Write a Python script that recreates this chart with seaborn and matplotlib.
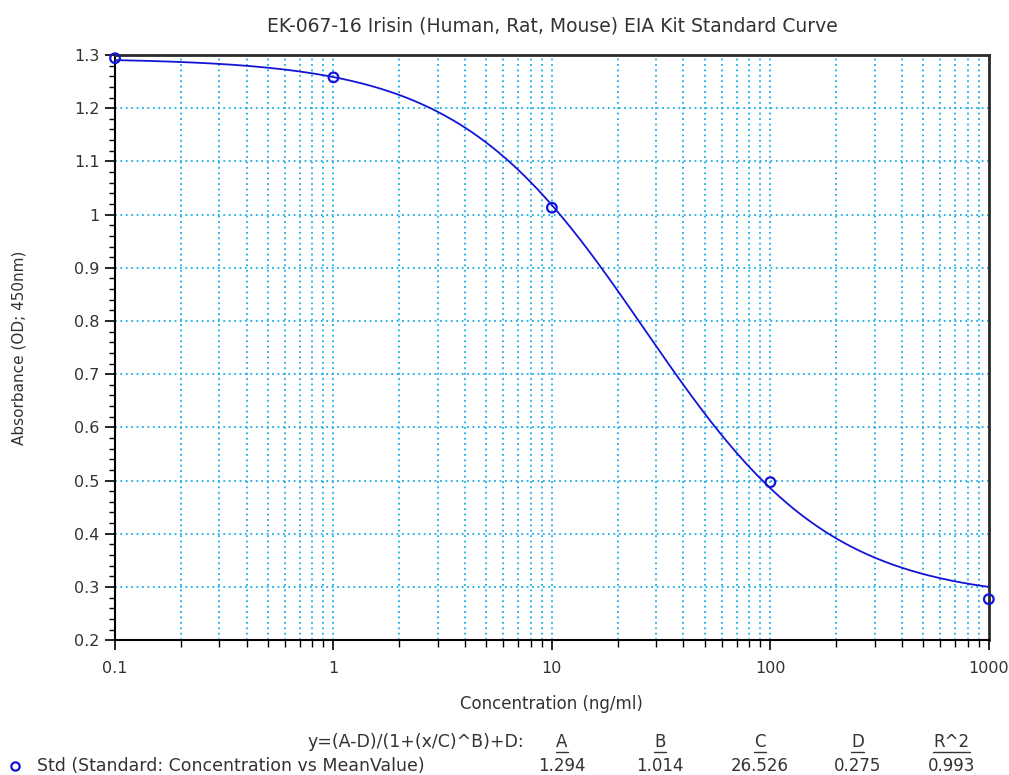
import numpy as np
import pandas as pd
import seaborn as sns
import matplotlib.pyplot as plt
from matplotlib.lines import Line2D
from matplotlib.ticker import FixedLocator, LogLocator, MultipleLocator, NullFormatter

### standard points
conc = [0.1, 1, 10, 100, 1000]
absorbance = [1.294, 1.258, 1.013, 0.497, 0.277]

### 4PL fit parameters printed under the chart
param_names = ["A", "B", "C", "D", "R^2"]
param_values = ["1.294", "1.014", "26.526", "0.275", "0.993"]
A, B, C, D = 1.294, 1.014, 26.526, 0.275

x_ticks = [0.1, 1, 10, 100, 1000]
x_ticklabels = ["0.1", "1", "10", "100", "1000"]
y_ticks = [0.2, 0.3, 0.4, 0.5, 0.6, 0.7, 0.8, 0.9, 1.0, 1.1, 1.2, 1.3]
y_ticklabels = ["0.2", "0.3", "0.4", "0.5", "0.6", "0.7", "0.8", "0.9", "1", "1.1", "1.2", "1.3"]

TEXT = "#333333"
BLUE = "#1414d8"
GRID = "#18aee8"

sns.set_theme(style="white")
plt.rcParams["font.family"] = ["DejaVu Sans"]

# fitted curve y=(A-D)/(1+(x/C)^B)+D using the printed parameters
x_fit = np.logspace(np.log10(conc[0]), np.log10(conc[-1]), 400)
fit_df = pd.DataFrame({"x": x_fit, "y": (A - D) / (1 + (x_fit / C) ** B) + D})
std_df = pd.DataFrame({"x": conc, "y": absorbance})

fig = plt.figure(figsize=(10.09, 7.75), dpi=100)
ax = fig.add_axes([0.114, 0.174, 0.866, 0.755])

sns.lineplot(data=fit_df, x="x", y="y", ax=ax, color=BLUE, linewidth=1.3, zorder=3)
sns.scatterplot(data=std_df, x="x", y="y", ax=ax, marker="o", s=48,
                facecolors="none", edgecolor=BLUE, linewidth=1.6, zorder=4, clip_on=False)

ax.set_xscale("log")
ax.set_xlim(0.1, 1000)
ax.set_ylim(0.2, 1.3)

ax.xaxis.set_major_locator(FixedLocator(x_ticks))
ax.set_xticklabels(x_ticklabels)
ax.xaxis.set_minor_locator(LogLocator(base=10, subs=np.arange(2, 10)))
ax.xaxis.set_minor_formatter(NullFormatter())
ax.yaxis.set_major_locator(FixedLocator(y_ticks))
ax.set_yticklabels(y_ticklabels)
ax.yaxis.set_minor_locator(MultipleLocator(0.02))

ax.tick_params(axis="both", which="major", direction="out", length=7, width=1.2,
               color="black", labelsize=11.5, labelcolor=TEXT, pad=4,
               bottom=True, left=True)
ax.tick_params(axis="x", which="major", pad=8)
ax.tick_params(axis="both", which="minor", direction="out", length=5, width=1.0,
               color="black", bottom=True, left=True)
ax.tick_params(axis="y", which="minor", length=4)

ax.grid(True, which="major", axis="both", color=GRID, linestyle=(0, (1, 2)), linewidth=1.3)
ax.grid(True, which="minor", axis="x", color=GRID, linestyle=(0, (1, 2)), linewidth=1.3)
ax.set_axisbelow(True)

for side in ["left", "bottom"]:
    ax.spines[side].set_color("black")
    ax.spines[side].set_linewidth(1.5)
for side in ["top", "right"]:
    ax.spines[side].set_color("#2a2a2a")
    ax.spines[side].set_linewidth(2.0)

ax.set_xlabel("Concentration (ng/ml)", fontsize=12, color=TEXT, labelpad=14)
ax.set_ylabel("Absorbance (OD; 450nm)", fontsize=11, color=TEXT, labelpad=34)
ax.set_title("EK-067-16 Irisin (Human, Rat, Mouse) EIA Kit Standard Curve",
             fontsize=13.5, color=TEXT, pad=17)

### fit table under the chart
col_x = [0.557, 0.654, 0.753, 0.850, 0.943]
fig.text(0.519, 0.043, "y=(A-D)/(1+(x/C)^B)+D:", ha="right", va="center",
         fontsize=12.5, color=TEXT)
headers = []
for cx, name in zip(col_x, param_names):
    headers.append(fig.text(cx, 0.043, name, ha="center", va="center",
                            fontsize=12, color=TEXT))
for cx, val in zip(col_x, param_values):
    fig.text(cx, 0.011, val, ha="center", va="center", fontsize=12, color=TEXT)
fig.text(0.037, 0.011, "Std (Standard: Concentration vs MeanValue)", ha="left",
         va="center", fontsize=12.5, color=TEXT)
fig.add_artist(Line2D([0.015], [0.011], marker="o", markersize=6, markerfacecolor="none",
                      markeredgecolor=BLUE, markeredgewidth=1.6, transform=fig.transFigure))

# underline the parameter headers
fig.canvas.draw()
renderer = fig.canvas.get_renderer()
inv = fig.transFigure.inverted()
for t in headers:
    bb = t.get_window_extent(renderer).transformed(inv)
    fig.add_artist(Line2D([bb.x0, bb.x1], [bb.y0 - 0.002, bb.y0 - 0.002], color=TEXT,
                          linewidth=1.0, transform=fig.transFigure))

fig.savefig("out.png", dpi=100)
